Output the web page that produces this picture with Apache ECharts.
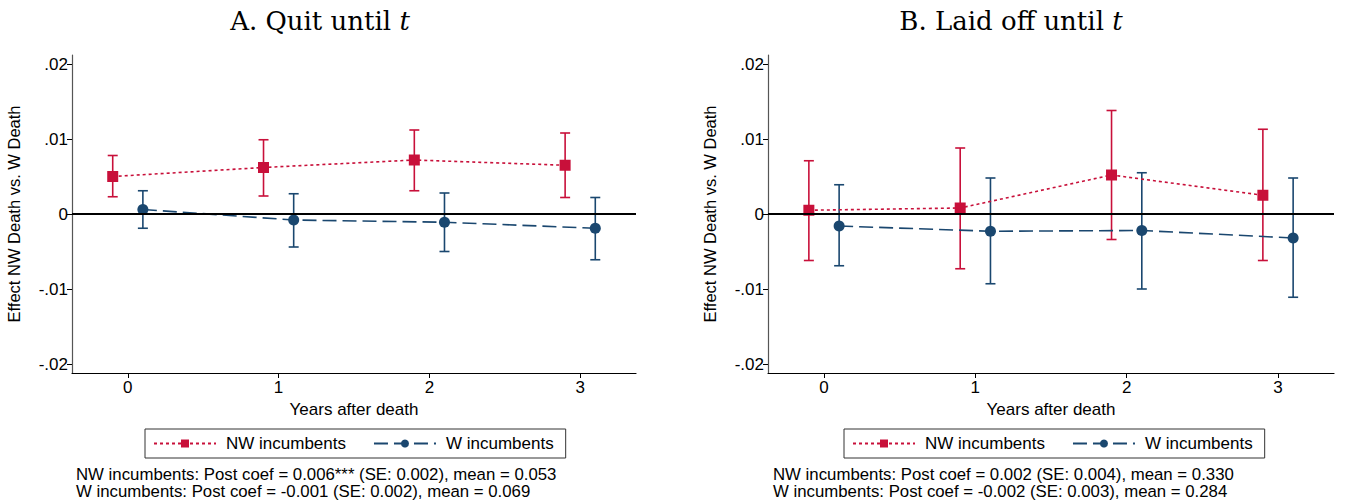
<!DOCTYPE html>
<html>
<head>
<meta charset="utf-8">
<script src="https://cdn.jsdelivr.net/npm/echarts@6/dist/echarts.min.js"></script>
<style>html,body{margin:0;padding:0;background:#fff;}#c{width:1346px;height:503px;}</style>
</head>
<body>
<div id="c"></div>
<script>
const years = [0, 1, 2, 3];
const xTickLabels = ['0', '1', '2', '3'];
const yTicks = [-0.02, -0.01, 0, 0.01, 0.02];
const yTickLabels = ['-.02', '-.01', '0', '.01', '.02'];

// Panel A: Quit until t
const quitNW   = [0.0050, 0.0062, 0.0072, 0.0065];
const quitNWlo = [0.0023, 0.0024, 0.0031, 0.0022];
const quitNWhi = [0.0078, 0.0099, 0.0112, 0.0108];
const quitW    = [0.0006, -0.0008, -0.0011, -0.0019];
const quitWlo  = [-0.0019, -0.0044, -0.0050, -0.0061];
const quitWhi  = [0.0031, 0.0027, 0.0028, 0.0022];

// Panel B: Laid off until t
const layNW   = [0.0005, 0.0008, 0.0052, 0.0025];
const layNWlo = [-0.0062, -0.0073, -0.0034, -0.0062];
const layNWhi = [0.0071, 0.0088, 0.0138, 0.0113];
const layW    = [-0.0016, -0.0023, -0.0022, -0.0032];
const layWlo  = [-0.0069, -0.0093, -0.0100, -0.0111];
const layWhi  = [0.0039, 0.0048, 0.0055, 0.0048];

const titles = [['A. Quit until ', 't'], ['B. Laid off until ', 't']];
const notes = [
  ['NW incumbents: Post coef = 0.006*** (SE: 0.002), mean = 0.053',
   'W incumbents: Post coef = -0.001 (SE: 0.002), mean = 0.069'],
  ['NW incumbents: Post coef = 0.002 (SE: 0.004), mean = 0.330',
   'W incumbents: Post coef = -0.002 (SE: 0.003), mean = 0.284']
];
const nwName = 'NW incumbents';
const wName = 'W incumbents';

const RED = '#c8103a';
const BLUE = '#1a476f';
const OFF = 0.1;
const FONT = 'Liberation Sans, Arial, sans-serif';
const SERIF = 'DejaVu Serif, serif';

const chart = echarts.init(document.getElementById('c'), null, {renderer: 'svg'});

const panels = [
  {nw: quitNW, nwlo: quitNWlo, nwhi: quitNWhi, w: quitW, wlo: quitWlo, whi: quitWhi, left: 72, width: 564, tx: 320, legendLeft: 145, noteLeft: 76},
  {nw: layNW, nwlo: layNWlo, nwhi: layNWhi, w: layW, wlo: layWlo, whi: layWhi, left: 768, width: 566, tx: 1011, legendLeft: 844, noteLeft: 773}
];

function errRender(color) {
  return function (params, api) {
    const x = api.value(0);
    const lo = api.coord([x, api.value(1)]);
    const hi = api.coord([x, api.value(2)]);
    const cw = 5;
    const st = {stroke: color, lineWidth: 1.6};
    return {
      type: 'group',
      children: [
        {type: 'line', shape: {x1: lo[0], y1: lo[1], x2: hi[0], y2: hi[1]}, style: st},
        {type: 'line', shape: {x1: lo[0] - cw, y1: lo[1], x2: lo[0] + cw, y2: lo[1]}, style: st},
        {type: 'line', shape: {x1: hi[0] - cw, y1: hi[1], x2: hi[0] + cw, y2: hi[1]}, style: st}
      ]
    };
  };
}

const grids = [], xAxes = [], yAxes = [], series = [], legends = [], graphics = [];

panels.forEach((p, i) => {
  grids.push({left: p.left, top: 55, width: p.width, height: 318});
  xAxes.push({
    type: 'value', gridIndex: i, min: -0.37, max: 3.37,
    name: 'Years after death', nameLocation: 'middle', nameGap: 28,
    nameTextStyle: {fontFamily: FONT, fontSize: 17, color: '#000'},
    axisLine: {show: true, onZero: false, lineStyle: {color: '#000', width: 1.2}},
    axisTick: {show: true, length: 5, customValues: years, lineStyle: {color: '#000'}},
    axisLabel: {customValues: years, margin: 6, fontFamily: FONT, fontSize: 17, color: '#000',
      formatter: v => xTickLabels[years.indexOf(Math.round(v))] ?? ''},
    splitLine: {show: false}
  });
  yAxes.push({
    type: 'value', gridIndex: i, min: -0.0212, max: 0.0212,
    name: 'Effect NW Death vs. W Death', nameLocation: 'middle', nameGap: 50,
    nameTextStyle: {fontFamily: FONT, fontSize: 16.5, color: '#000'},
    axisLine: {show: true, onZero: false, lineStyle: {color: '#555', width: 1.2}},
    axisTick: {show: true, length: 5, customValues: yTicks, lineStyle: {color: '#000'}},
    axisLabel: {customValues: yTicks, margin: 4, fontFamily: FONT, fontSize: 17, color: '#000',
      formatter: v => {
        const k = yTicks.findIndex(t => Math.abs(t - v) < 1e-9);
        return k >= 0 ? yTickLabels[k] : '';
      }},
    splitLine: {show: false}
  });

  series.push({
    type: 'custom', name: 'nwci' + i, xAxisIndex: i, yAxisIndex: i, z: 2,
    renderItem: errRender(RED),
    data: years.map((y, k) => [y - OFF, p.nwlo[k], p.nwhi[k]])
  });
  series.push({
    type: 'custom', name: 'wci' + i, xAxisIndex: i, yAxisIndex: i, z: 2,
    renderItem: errRender(BLUE),
    data: years.map((y, k) => [y + OFF, p.wlo[k], p.whi[k]])
  });
  series.push({
    type: 'line', name: nwName, xAxisIndex: i, yAxisIndex: i, z: 4,
    symbol: 'rect', symbolSize: 11,
    itemStyle: {color: RED},
    lineStyle: {color: RED, width: 1.6, type: [3, 3]},
    data: years.map((y, k) => [y - OFF, p.nw[k]]),
    markLine: {
      silent: true, symbol: 'none', label: {show: false},
      lineStyle: {color: '#000', width: 2, type: 'solid'},
      data: [{yAxis: 0}]
    }
  });
  series.push({
    type: 'line', name: wName, xAxisIndex: i, yAxisIndex: i, z: 4,
    symbol: 'circle', symbolSize: 11,
    itemStyle: {color: BLUE},
    lineStyle: {color: BLUE, width: 1.6, type: [14, 6]},
    data: years.map((y, k) => [y + OFF, p.w[k]])
  });

  legends.push({
    left: p.legendLeft, top: 429, orient: 'horizontal',
    data: [nwName, wName],
    itemWidth: 62, itemHeight: 10, itemGap: 27,
    borderColor: '#333', borderWidth: 1, padding: [6, 12, 6, 8],
    textStyle: {fontFamily: FONT, fontSize: 17, color: '#000', padding: [0, 0, 0, 5]},
    selectedMode: false
  });

  graphics.push({
    type: 'text', x: p.tx, y: 21,
    style: {
      text: '{a|' + titles[i][0] + '}{b|' + titles[i][1] + '}',
      align: 'center', verticalAlign: 'middle',
      rich: {
        a: {fontFamily: SERIF, fontSize: 26, fill: '#000', color: '#000'},
        b: {fontFamily: SERIF, fontSize: 26, fontStyle: 'italic', fill: '#000', color: '#000'}
      }
    }
  });
  notes[i].forEach((line, j) => {
    graphics.push({
      type: 'text', x: p.noteLeft, y: 474 + j * 17,
      style: {text: line, fontFamily: FONT, fontSize: 16.8, fill: '#000', align: 'left', verticalAlign: 'middle'}
    });
  });
});

chart.setOption({
  backgroundColor: '#fff',
  animation: false,
  grid: grids,
  xAxis: xAxes,
  yAxis: yAxes,
  legend: legends,
  series: series,
  graphic: graphics
});
</script>
</body>
</html>
